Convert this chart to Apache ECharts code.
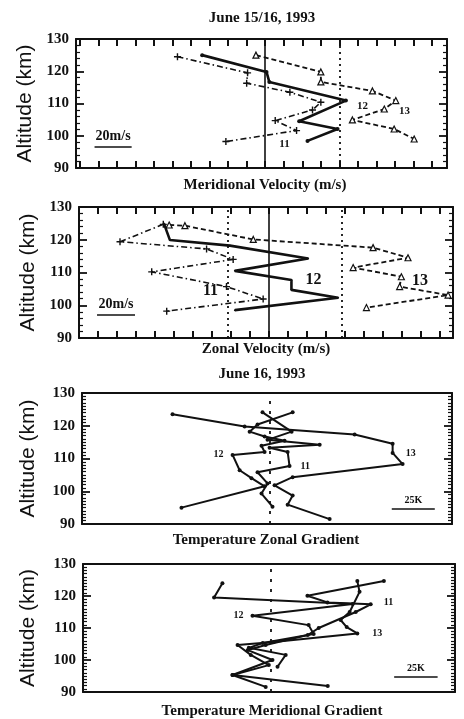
<!DOCTYPE html>
<html><head><meta charset="utf-8">
<script src="https://cdn.jsdelivr.net/npm/echarts@6/dist/echarts.min.js"></script>
<style>html,body{margin:0;padding:0;background:#fff}#c{width:464px;height:719px}</style>
</head><body><div id="c"></div>
<script>
// ---- Data: [value, altitude km] ----
// Panel 1: Meridional velocity (m/s), June 15/16 1993
const merid11 = [[-47.3,124.5],[-9.5,119.5],[-10,116.3],[13.3,113.5],[30,110.4],[25.5,108],[5.4,104.7],[16.9,101.6],[-21.2,98.2]];
const merid12 = [[-34,125],[0.7,119.8],[2.2,116.7],[43.5,110.9],[18.3,104.5],[39,102.1],[22.8,98.4]];
const merid13 = [[-5,125],[30,119.8],[30,116.7],[57.8,113.9],[70.4,110.9],[64.2,108.3],[47,104.9],[69.5,102.1],[80.3,99]];
// Panel 2: Zonal velocity (m/s)
const zonal11 = [[-55.6,124.7],[-78.4,119.4],[-32.8,117.2],[-18.8,114.0],[-61.7,110.2],[-22.3,105.7],[-3,101.9],[-53.8,98.2]];
const zonal12 = [[-55.3,125.0],[-52.1,119.9],[-20.5,118.2],[20.7,114.3],[-17.9,110.5],[11.9,107.7],[11.9,104.7],[36.5,102.3],[-17.9,98.5]];
const zonal13 = [[-52.5,124.5],[-44.2,124.3],[-8.2,120.1],[54.9,117.6],[73.3,114.5],[44.4,111.5],[69.8,108.7],[68.9,105.7],[94.4,103.1],[51.4,99.3]];
// Panel 3: Temperature zonal gradient (K), June 16 1993
const tzon11 = [[-4.1,124.1],[12.8,118.2],[-1.2,115.7],[29.1,114.2],[0,113.3],[10.5,112.0],[11.6,107.7],[-7.0,105.8],[-1.2,102.4],[-4.7,99.3],[1.7,95.3]];
const tzon12 = [[13.4,124.1],[-7.0,120.4],[-11.6,118.2],[-2.9,116.7],[8.7,115.4],[-4.7,113.9],[-2.9,112.0],[-21.5,111.1],[-17.4,106.4],[-10.5,104.0],[-2.9,101.5],[-51.2,95.0]];
const tzon13 = [[-56.4,123.5],[-14.5,119.8],[49.4,117.3],[71.5,114.5],[71.5,111.7],[77.3,108.3],[13.4,104.3],[2.9,101.8],[13.4,98.7],[10.5,95.9],[34.9,91.5]];
// Panel 4: Temperature meridional gradient (K)
const tmer11 = [[65.1,124.7],[21.1,120.1],[32.6,118.0],[57.5,117.4],[48.9,115.0],[27.6,110.0],[21.3,107.8],[-2.9,104.7],[-13.2,103.1],[1.0,100.0],[-22.0,95.3],[-2.9,91.6]];
const tmer12 = [[-27.8,124.0],[-32.6,119.5],[47.1,117.5],[-10.5,113.8],[21.8,110.9],[24.7,108.1],[-4.6,105.3],[-12.6,103.8],[8.6,101.6],[3.9,97.9]];
const tmer13 = [[49.8,124.7],[51.1,121.3],[45.4,115.0],[40.2,112.5],[43.7,110.3],[49.8,108.3],[1.7,105.6],[-19.1,104.7],[-11.5,101.6],[-1.1,98.4],[-22.0,95.3],[32.8,91.9]];
// Reference lines (x values) and scale bars
const refSolid = [[0],[0],[],[]];
const refDotted = [[40],[-21.5,38.5],[0],[0]];
const scaleBars = [
  {x:[-92,-72], y:96.7, text:'20m/s'},
  {x:[-90.5,-70.5], y:97.2, text:'20m/s'},
  {x:[71,96], y:94.7, text:'25K'},
  {x:[71,96], y:94.8, text:'25K'}
];
const xTickVals = [-100,-90,-80,-70,-60,-50,-40,-30,-20,-10,0,10,20,30,40,50,60,70,80,90];
const titles = ['June 15/16, 1993','Meridional Velocity (m/s)','Zonal Velocity (m/s)','June 16, 1993','Temperature Zonal Gradient','Temperature Meridional Gradient'];
const yName = 'Altitude (km)';

// ---- Layout ----
const panels = [
  {grid:{left:76, top:39, width:371, height:129}, xmin:-102, xmax:98, xticks:true, minor:5, style:'vel',
   series:[[merid11,'11',7,'bottom',[-12,0],11],[merid12,'12',3,'right',[4,6],11],[merid13,'13',5,'right',[6,2],11]], gap:37},
  {grid:{left:79, top:207, width:374, height:131}, xmin:-100, xmax:97, xticks:true, minor:5, style:'vel',
   series:[[zonal11,'11',5,'left',[0,4],16],[zonal12,'12',5,'right',[8,0],16],[zonal13,'13',6,'right',[2,4],16]], gap:40},
  {grid:{left:82, top:393, width:370, height:131}, xmin:-109, xmax:106, xticks:false, minor:10, style:'temp',
   series:[[tzon11,'11',6,'right',[4,0],10],[tzon12,'12',7,'left',[-2,0],10],[tzon13,'13',4,'right',[6,0],10]], gap:43},
  {grid:{left:83, top:564, width:372, height:128}, xmin:-108, xmax:106, xticks:false, minor:10, style:'temp',
   series:[[tmer11,'11',3,'right',[6,-2],10],[tmer12,'12',3,'left',[-2,0],10],[tmer13,'13',5,'right',[8,0],10]], gap:44}
];

const BLACK = '#111';
const serif = 'Liberation Serif';
const plus = 'path://M4,0H6V4H10V6H6V10H4V6H0V4H4Z';

const grids = [], xAxes = [], yAxes = [], series = [];
panels.forEach((P, i) => {
  grids.push(Object.assign({containLabel:false}, P.grid));
  const xBase = {gridIndex:i, type:'value', min:P.xmin, max:P.xmax,
    axisLine:{onZero:false, lineStyle:{color:BLACK, width:2}},
    axisTick:{show:P.xticks, inside:true, length:7, lineStyle:{color:BLACK, width:2}, customValues: xTickVals},
    axisLabel:{show:false, customValues: xTickVals}, splitLine:{show:false}};
  xAxes.push(Object.assign({}, xBase, {position:'bottom'}));
  xAxes.push(Object.assign({}, xBase, {position:'top'}));
  const yBase = {gridIndex:i, type:'value', min:90, max:130, interval:10,
    axisLine:{onZero:false, lineStyle:{color:BLACK, width:2}},
    axisTick:{show:true, inside:true, length:8, lineStyle:{color:BLACK, width:1.8}},
    minorTick:{show:true, splitNumber:P.minor, length:4, lineStyle:{color:BLACK, width:1.2}},
    splitLine:{show:false}};
  yAxes.push(Object.assign({}, yBase, {position:'left',
    axisLabel:{show:true, margin:7, color:BLACK, fontSize:15, fontWeight:'bold', fontFamily:serif},
    name:yName, nameLocation:'middle', nameGap:P.gap,
    nameTextStyle:{color:BLACK, fontSize:21, fontFamily:'Liberation Sans'}}));
  yAxes.push(Object.assign({}, yBase, {position:'right', axisLabel:{show:false}}));

  P.series.forEach((S, k) => {
    const [arr, lab, li, pos, off, fs] = S;
    const data = arr.map((p, j) => j === li ? {value:p, label:{show:true, formatter:lab, position:pos, offset:off,
      color:BLACK, fontSize:fs, fontWeight:'bold', fontFamily:serif}} : p);
    let st;
    if (P.style === 'vel') {
      if (k === 0) st = {lineStyle:{color:BLACK, width:1.6, type:[6,3,1.5,3]}, symbol:plus, symbolSize:7, itemStyle:{color:BLACK}};
      else if (k === 1) st = {lineStyle:{color:BLACK, width:2.6}, symbol:'circle', symbolSize:i===0?4:2, itemStyle:{color:BLACK}};
      else st = {lineStyle:{color:BLACK, width:1.8, type:[5,3]}, symbol:'triangle', symbolSize:6, itemStyle:{color:'#fff', borderColor:BLACK, borderWidth:1.2}};
    } else {
      st = {lineStyle:{color:BLACK, width:2}, symbol:'circle', symbolSize:4, itemStyle:{color:BLACK}};
    }
    const s = Object.assign({type:'line', xAxisIndex:2*i, yAxisIndex:2*i, data, animation:false,
      showSymbol:true, label:{show:false}, z:3}, st);
    if (k === 1) {
      const ml = [];
      refSolid[i].forEach(x => ml.push({xAxis:x, lineStyle:{type:'solid', width:1.6, color:BLACK}}));
      refDotted[i].forEach(x => ml.push({xAxis:x, lineStyle:{type:P.style==='vel'?[2,4]:[3,7], width:1.8, color:BLACK}}));
      const sb = scaleBars[i];
      ml.push([{coord:[sb.x[0], sb.y], lineStyle:{type:'solid', width:1.5, color:BLACK},
        label:{show:true, position:'insideMiddleTop', distance:3, formatter:sb.text, color:BLACK,
          fontSize:P.style==='vel'?14:10, fontWeight:'bold', fontFamily:serif}},
        {coord:[sb.x[1], sb.y]}]);
      s.markLine = {silent:true, symbol:['none','none'], animation:false, label:{show:false}, data:ml};
    }
    series.push(s);
  });
});

const titlePos = [[262,18],[265,185],[266,349],[262,374],[266,540],[272,711]];
const graphic = titles.map((t, i) => ({type:'text', x:titlePos[i][0], y:titlePos[i][1],
  style:{text:t, fill:BLACK, font:'bold 15px "Liberation Serif"', textAlign:'center', textVerticalAlign:'middle'}}));

const chart = echarts.init(document.getElementById('c'), null, {renderer:'canvas'});
chart.setOption({backgroundColor:'#fff', animation:false, grid:grids, xAxis:xAxes, yAxis:yAxes, series, graphic});
</script></body></html>
